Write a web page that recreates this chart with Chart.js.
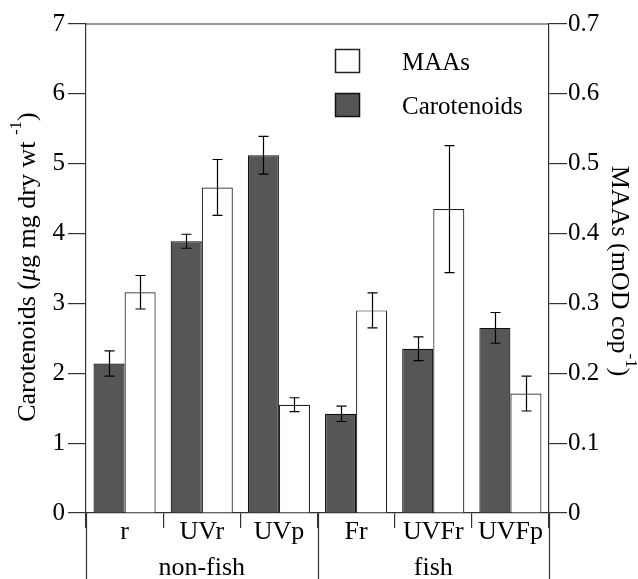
<!DOCTYPE html>
<html>
<head>
<meta charset="utf-8">
<script src="https://cdn.jsdelivr.net/npm/chart.js@4/dist/chart.umd.min.js"></script>
<style>
  html, body { margin: 0; padding: 0; background: #fff; }
  #wrap { width: 638px; height: 579px; }
</style>
</head>
<body>
<div id="wrap"><canvas id="c" width="638" height="579"></canvas></div>
<script>
// ---- data ----
const categories = ['r', 'UVr', 'UVp', 'Fr', 'UVFr', 'UVFp'];
const groups = ['non-fish', 'fish'];
const groupSizes = [3, 3];
const carotenoids = [2.14, 3.89, 5.12, 1.42, 2.35, 2.65];
const carotenoidsErr = [0.18, 0.10, 0.27, 0.11, 0.17, 0.22];
const maas = [0.316, 0.466, 0.155, 0.290, 0.435, 0.171];
const maasErr = [0.024, 0.040, 0.010, 0.025, 0.091, 0.025];
const leftTicks = [0, 1, 2, 3, 4, 5, 6, 7];
const rightTicks = [0, 0.1, 0.2, 0.3, 0.4, 0.5, 0.6, 0.7];

const FONT = "'Liberation Serif', 'Times New Roman', serif";
const AXIS = '#333';
const DARK = '#565656';

const errors = [carotenoidsErr, maasErr];

const errorBarPlugin = {
  id: 'errorBars',
  afterDatasetsDraw(chart) {
    const ctx = chart.ctx;
    ctx.save();
    ctx.strokeStyle = '#000';
    ctx.lineWidth = 1.2;
    chart.data.datasets.forEach((ds, di) => {
      const meta = chart.getDatasetMeta(di);
      const ys = chart.scales[ds.yAxisID];
      meta.data.forEach((bar, i) => {
        const v = ds.data[i], e = errors[di][i];
        const x = Math.round(bar.x) + 0.5;
        const y1 = ys.getPixelForValue(v + e), y2 = ys.getPixelForValue(v - e);
        ctx.beginPath();
        ctx.moveTo(x, y1); ctx.lineTo(x, y2);
        ctx.moveTo(x - 5, y1); ctx.lineTo(x + 5, y1);
        ctx.moveTo(x - 5, y2); ctx.lineTo(x + 5, y2);
        ctx.stroke();
      });
    });
    ctx.restore();
  }
};

function drawRich(ctx, parts, size) {
  // measure
  let total = 0;
  parts.forEach(p => {
    ctx.font = (p.italic ? 'italic ' : '') + (p.sup ? Math.round(size * 0.65) : size) + 'px ' + FONT;
    p.w = ctx.measureText(p.t).width;
    total += p.w;
  });
  let x = -total / 2;
  parts.forEach(p => {
    ctx.font = (p.italic ? 'italic ' : '') + (p.sup ? Math.round(size * 0.65) : size) + 'px ' + FONT;
    ctx.fillText(p.t, x, p.sup ? -14 : 0);
    x += p.w;
  });
}

const decorPlugin = {
  id: 'decor',
  afterDraw(chart) {
    const ctx = chart.ctx;
    const a = chart.chartArea;
    const xs = chart.scales.x;
    ctx.save();
    // top frame line
    ctx.strokeStyle = AXIS;
    ctx.lineWidth = 1.2;
    ctx.beginPath();
    ctx.moveTo(a.left, a.top); ctx.lineTo(a.right, a.top);
    ctx.stroke();

    // group dividers and labels
    const half = (xs.right - xs.left) / categories.length / 2;
    let start = 0;
    const bounds = [xs.getPixelForValue(0) - half];
    groups.forEach((g, gi) => {
      const end = start + groupSizes[gi] - 1;
      bounds.push(xs.getPixelForValue(end) + half);
      const cx = (xs.getPixelForValue(start) + xs.getPixelForValue(end)) / 2;
      ctx.fillStyle = '#000';
      ctx.font = '26px ' + FONT;
      ctx.textAlign = 'center';
      ctx.textBaseline = 'alphabetic';
      ctx.fillText(g, cx, a.bottom + 62);
      start = end + 1;
    });
    ctx.beginPath();
    bounds.forEach(bx => {
      const x = Math.round(bx) + 0.5;
      ctx.moveTo(x, a.bottom); ctx.lineTo(x, chart.height);
    });
    ctx.stroke();

    // axis titles
    ctx.fillStyle = '#000';
    ctx.textAlign = 'left';
    ctx.textBaseline = 'alphabetic';
    ctx.save();
    ctx.translate(35, 267);
    ctx.rotate(-Math.PI / 2);
    drawRich(ctx, [
      { t: 'Carotenoids (' },
      { t: 'μ', italic: true },
      { t: 'g mg dry wt ' },
      { t: '-1', sup: true },
      { t: ')' }
    ], 26);
    ctx.restore();

    ctx.save();
    ctx.translate(612, 271);
    ctx.rotate(Math.PI / 2);
    drawRich(ctx, [
      { t: 'MAAs (mOD cop' },
      { t: '-1', sup: true },
      { t: ')' }
    ], 26);
    ctx.restore();

    // legend
    const lx = a.right - 214;
    const items = [
      { label: chart.data.datasets[1].label, fill: '#fff', stroke: '#222', y: a.top + 25 },
      { label: chart.data.datasets[0].label, fill: DARK, stroke: '#111', y: a.top + 69 }
    ];
    items.forEach(it => {
      ctx.fillStyle = it.fill;
      ctx.strokeStyle = it.stroke;
      ctx.lineWidth = 1.5;
      ctx.fillRect(lx, it.y, 25, 24);
      ctx.strokeRect(lx + 0.5, it.y + 0.5, 24, 23);
      ctx.fillStyle = '#000';
      ctx.font = '25px ' + FONT;
      ctx.textAlign = 'left';
      ctx.textBaseline = 'alphabetic';
      ctx.fillText(it.label, lx + 67, it.y + 21);
    });
    ctx.restore();
  }
};

new Chart(document.getElementById('c'), {
  type: 'bar',
  data: {
    labels: categories,
    datasets: [
      {
        label: 'Carotenoids',
        data: carotenoids,
        yAxisID: 'y',
        backgroundColor: DARK,
        borderColor: '#111',
        borderWidth: 1.2,
        categoryPercentage: 0.805,
        barPercentage: 1.0
      },
      {
        label: 'MAAs',
        data: maas,
        yAxisID: 'y1',
        backgroundColor: '#fff',
        borderColor: '#222',
        borderWidth: 1.2,
        categoryPercentage: 0.805,
        barPercentage: 1.0
      }
    ]
  },
  options: {
    responsive: false,
    devicePixelRatio: 1,
    animation: false,
    layout: { padding: { top: 24, left: 0, right: 0, bottom: 0 } },
    plugins: { legend: { display: false }, title: { display: false }, tooltip: { enabled: false } },
    scales: {
      x: {
        type: 'category',
        offset: true,
        grid: { offset: true, drawOnChartArea: false, tickLength: 15, color: AXIS, lineWidth: 1.2 },
        border: { display: true, color: AXIS, width: 1.2 },
        ticks: { color: '#000', font: { family: FONT, size: 26 }, padding: -11, maxRotation: 0, autoSkip: false },
        afterFit(s) { s.height = 66; }
      },
      y: {
        position: 'left',
        min: 0, max: 7,
        afterBuildTicks(s) { s.ticks = leftTicks.map(v => ({ value: v })); },
        grid: { drawOnChartArea: false, tickLength: 18, color: AXIS, lineWidth: 1.2 },
        border: { display: true, color: AXIS, width: 1.2 },
        ticks: { color: '#000', font: { family: FONT, size: 25 }, padding: 3, callback: v => String(v) },
        afterFit(s) { s.width = 86; }
      },
      y1: {
        position: 'right',
        min: 0, max: 0.7,
        afterBuildTicks(s) { s.ticks = rightTicks.map(v => ({ value: v })); },
        grid: { drawOnChartArea: false, tickLength: 18, color: AXIS, lineWidth: 1.2 },
        border: { display: true, color: AXIS, width: 1.2 },
        ticks: { color: '#000', font: { family: FONT, size: 25 }, padding: 1, callback: v => (v === 0 ? '0' : v.toFixed(1)) },
        afterFit(s) { s.width = 89; }
      }
    }
  },
  plugins: [errorBarPlugin, decorPlugin]
});
</script>
</body>
</html>
